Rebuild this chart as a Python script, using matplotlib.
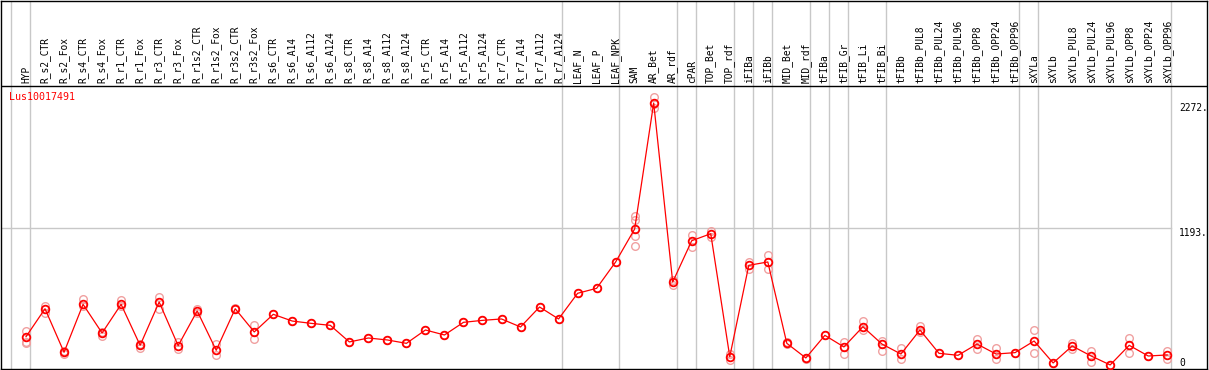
import matplotlib
matplotlib.use("Agg")
import matplotlib.pyplot as plt

gene = "Lus10017491"

samples = ["HYP", "R_s2_CTR", "R_s2_Fox", "R_s4_CTR", "R_s4_Fox", "R_r1_CTR", "R_r1_Fox",
           "R_r3_CTR", "R_r3_Fox", "R_r1s2_CTR", "R_r1s2_Fox", "R_r3s2_CTR", "R_r3s2_Fox",
           "R_s6_CTR", "R_s6_A14", "R_s6_A112", "R_s6_A124", "R_s8_CTR", "R_s8_A14",
           "R_s8_A112", "R_s8_A124", "R_r5_CTR", "R_r5_A14", "R_r5_A112", "R_r5_A124",
           "R_r7_CTR", "R_r7_A14", "R_r7_A112", "R_r7_A124", "LEAF_N", "LEAF_P", "LEAF_NPK",
           "SAM", "AR_Bet", "AR_rdf", "cPAR", "TOP_Bet", "TOP_rdf", "iFIBa", "iFIBb",
           "MID_Bet", "MID_rdf", "tFIBa", "tFIB_Gr", "tFIB_Li", "tFIB_Bi", "tFIBb",
           "tFIBb_PUL8", "tFIBb_PUL24", "tFIBb_PUL96", "tFIBb_OPP8", "tFIBb_OPP24",
           "tFIBb_OPP96", "sXYLa", "sXYLb", "sXYLb_PUL8", "sXYLb_PUL24", "sXYLb_PUL96",
           "sXYLb_OPP8", "sXYLb_OPP24", "sXYLb_OPP96"]

means = [259, 500, 125, 538, 291, 538, 185, 558, 182, 481, 142, 500, 300,
         452, 394, 374, 357, 214, 248, 231, 202, 317, 274, 383, 400,
         412, 343, 515, 412, 633, 676, 903, 1187, 2272, 730, 1086, 1146, 87,
         874, 903, 202, 76, 271, 171, 345, 196, 110, 317, 116, 99, 196, 110,
         122, 222, 33, 179, 93, 16, 185, 93, 102]

replicates = [[311, 216, 202], [526, 461], [139, 108], [581, 524], [302, 268],
              [575, 524], [196, 162], [604, 500], [216, 151], [498, 461], [199, 99],
              [505, 495], [357, 237], [452], [394], [374], [357], [214], [248], [231],
              [202], [317], [274], [383], [400], [412], [343], [515], [412], [633],
              [676], [903], [1299, 1264, 1127, 1043], [2321, 2227, 2260], [704, 745],
              [1138, 1035], [1172, 1121], [110, 59], [905, 842], [963, 842], [210, 195],
              [80, 70], [271], [211, 110], [397, 317], [225, 139], [159, 65], [354, 300],
              [116], [99], [237, 153], [165, 65], [122], [317, 116], [33], [208, 153],
              [139, 41], [16], [248, 122], [93], [136, 65]]

# last sample index of each group (vertical separators)
group_ends = [-1, 0, 28, 31, 34, 35, 37, 38, 39, 41, 42, 43, 45, 52, 53, 60]
ticks = [2272, 1193, 0]

mono = "DejaVu Sans Mono"
fig = plt.figure(figsize=(12.09, 3.70), dpi=100)
ax = fig.add_axes([1 / 1209, 1 / 370, 1206 / 1209, 368.5 / 370])

x = list(range(len(samples)))
ax.set_xlim(-1.314, 62.09)
ax.set_ylim(-19, 3155)

for e in group_ends:
    ax.axvline(e + 0.2, color="#c8c8c8", lw=1, zorder=1)
ax.plot([-1.4, 60.2], [1193, 1193], color="#c8c8c8", lw=1, zorder=1)
ax.axhline(2418, color="black", lw=1, zorder=2)

for i, reps in enumerate(replicates):
    ax.plot([i] * len(reps), reps, "o", ms=5.5, mfc="none", mec="#f0a0a0", mew=1.0, zorder=3)
ax.plot(x, means, "-", color="red", lw=0.9, zorder=4)
ax.plot(x, means, "o", ms=5.5, mfc="none", mec="red", mew=1.3, zorder=5)

for i, s in enumerate(samples):
    ax.text(i, 2444, s, rotation=90, ha="center", va="bottom",
            family=mono, fontsize=6.9)

ax.text(-0.88, 2324, gene, color="red", ha="left", va="center", family=mono, fontsize=7.2)
for t in ticks:
    lbl = "0" if t == 0 else str(t) + "."
    ax.text(60.62, t if t else -10, lbl, ha="left", va="bottom" if t == 0 else "top",
            family=mono, fontsize=6.9)

ax.set_xticks([])
ax.set_yticks([])
for s in ax.spines.values():
    s.set_linewidth(1)
    s.set_color("black")

fig.savefig("out.png", dpi=100)
